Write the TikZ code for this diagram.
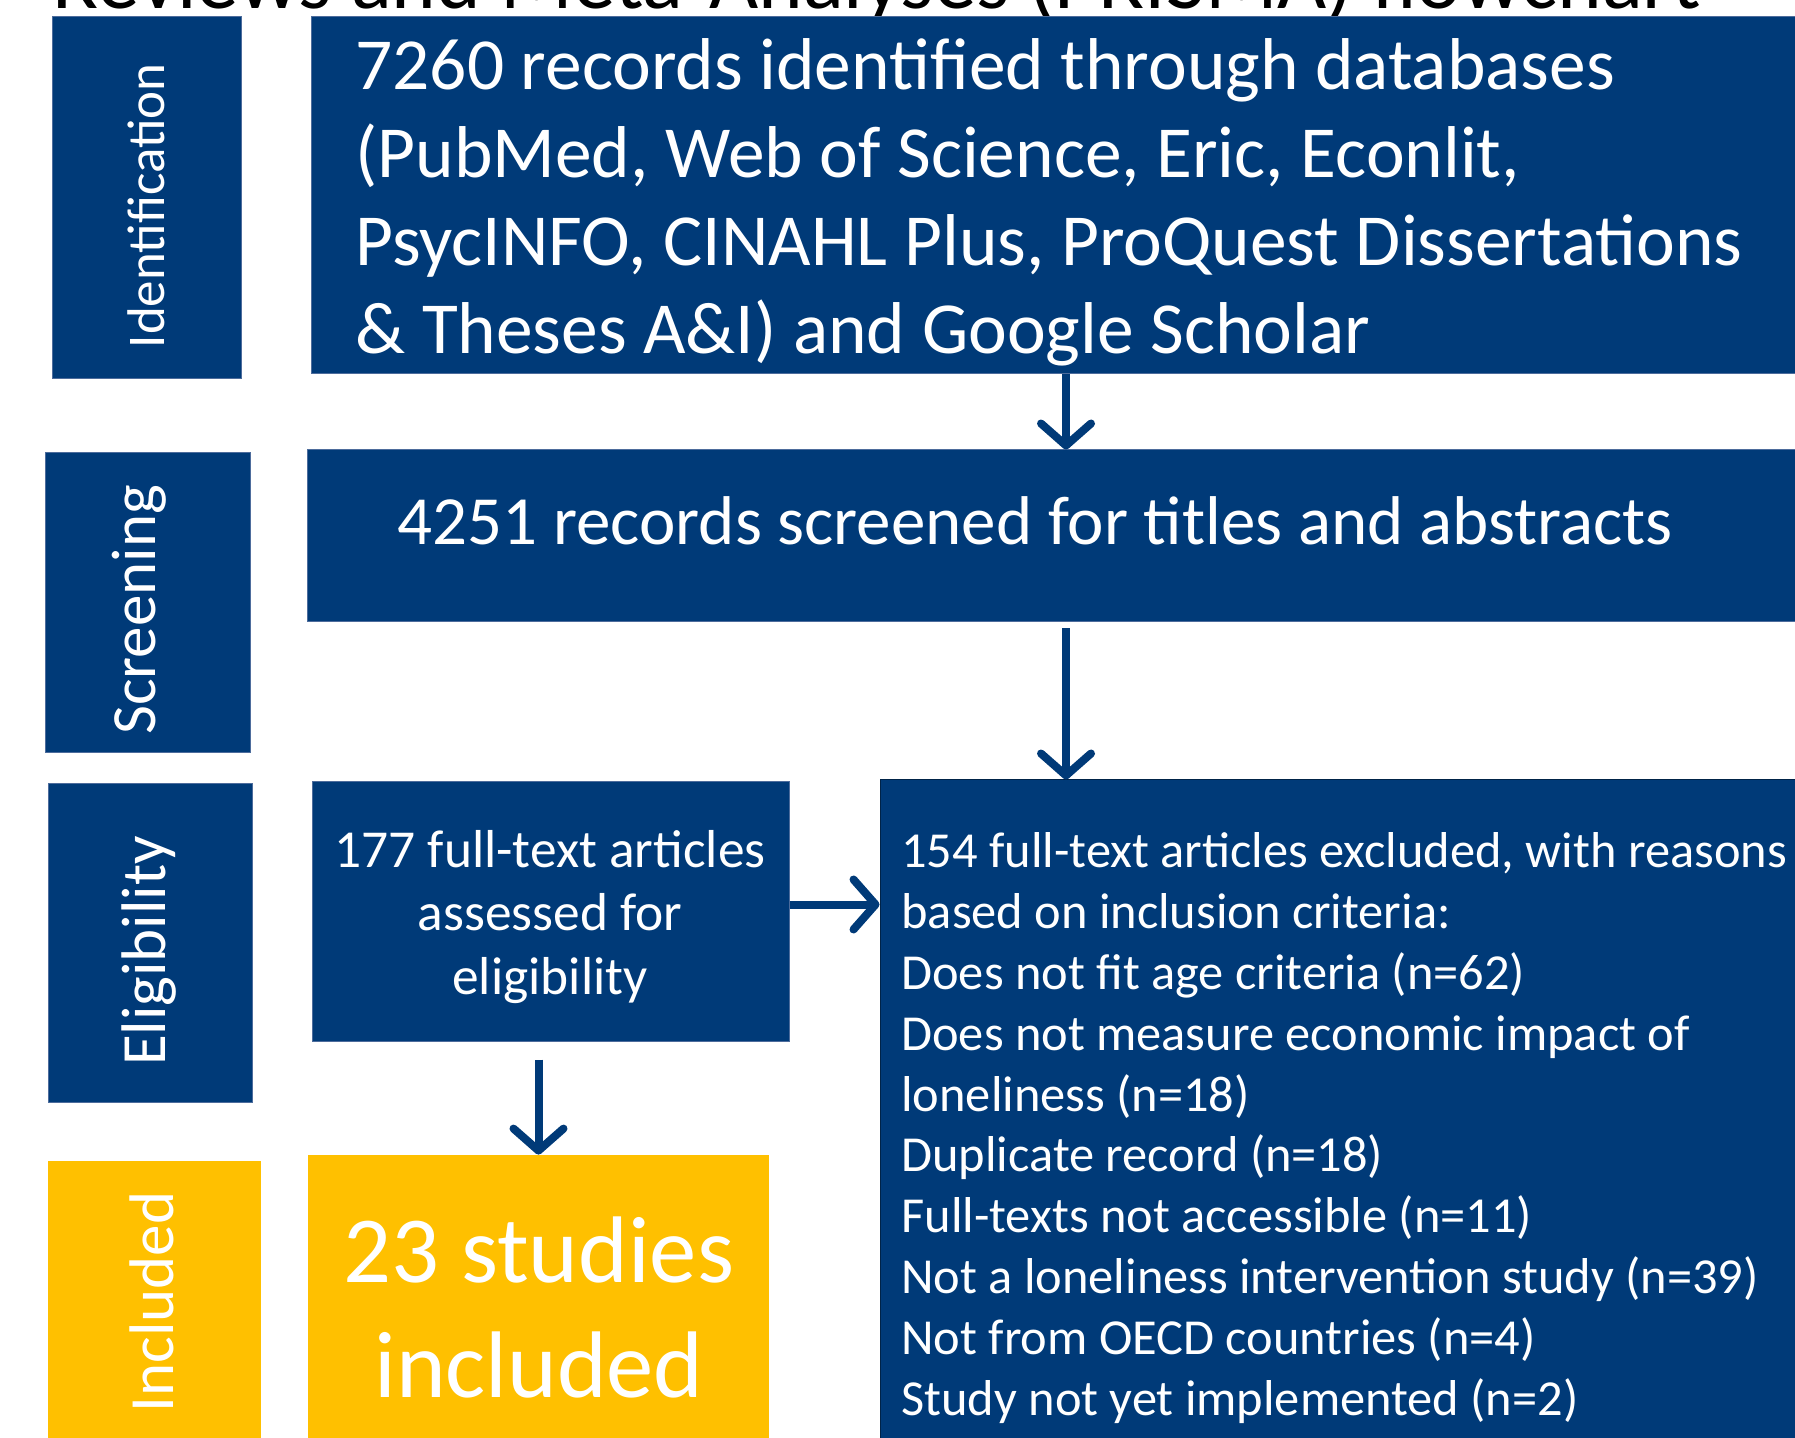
\documentclass[tikz,border=0pt]{standalone}
\usepackage{fontspec}
\setmainfont{Carlito}
\usetikzlibrary{arrows.meta, fit}

\definecolor{prismablue}{HTML}{003A78}
\definecolor{prismaedge}{HTML}{4D6C9C}
\definecolor{prismagold}{HTML}{FFC000}

\tikzset{
  bluebox/.style={fill=prismablue, draw=prismaedge, line width=0.5pt, inner sep=0pt},
  goldbox/.style={fill=prismagold, inner sep=0pt},
  stage/.style={text=white, rotate=90, anchor=base, inner sep=0pt,
    font=\fontsize{31.5}{36}\selectfont},
  boxtext/.style={text=white, inner sep=0pt},
  flow/.style={draw=prismablue, line width=4pt,
    -{Straight Barb[length=11pt, width=25pt, round]}},
}

\begin{document}
\begin{tikzpicture}[x=0.5pt, y=-0.5pt]
\useasboundingbox (0,0) rectangle (1795,1438);
% Title line, cut off by the top edge
\node[anchor=base west, inner sep=0pt, font=\fontsize{42.5}{50}\selectfont] (title) at (52,9)
  {Reviews and Meta-Analyses (PRISMA) flowchart};
% Stage boxes on the left
\node[bluebox, fit={(52,17) (241,379)}] (identbox) {};
\node[bluebox, fit={(45,453) (250,753)}] (screenbox) {};
\node[bluebox, fit={(48,784) (252,1102)}] (eligbox) {};
\node[goldbox, fit={(48,1161) (261,1470)}] (inclbox) {};
\node[stage, font=\fontsize{26.5}{30}\selectfont] (identtxt) at (164,206) {Identification};
\node[stage] (screentxt) at (155,610) {Screening};
\node[stage] (eligtxt) at (165,951) {Eligibility};
\node[stage] (incltxt) at (173,1302) {Included};
% Flow boxes
\node[bluebox, fit={(311,17) (1821,374)}] (records) {};
\node[bluebox, fit={(307,450) (1825,622)}] (screened) {};
\node[bluebox, fit={(312,782) (789,1041)}] (assessed) {};
\node[bluebox, draw=prismablue!60!black, fit={(880,780) (1830,1470)}] (excluded) {};
\node[goldbox, fit={(308,1155) (769,1470)}] (studies) {};
% Texts in the boxes (base = last line)
\node[boxtext, anchor=base west, align=left, font=\fontsize{36.7}{44}\selectfont] (recordstxt) at (355,354)
  {7260 records identified through databases\\
   (PubMed, Web of Science, Eric, Econlit,\\
   PsycINFO, CINAHL Plus, ProQuest Dissertations\\
   \& Theses A\&I) and Google Scholar};
\node[boxtext, anchor=base, font=\fontsize{34.5}{42}\selectfont] (screenedtxt) at (1035,545)
  {4251 records screened for titles and abstracts};
\node[boxtext, anchor=base, align=center, font=\fontsize{26.7}{31.75}\selectfont] (assessedtxt) at (550,994)
  {177 full-text articles\\ assessed for\\ eligibility};
\node[boxtext, anchor=base west, align=left, font=\fontsize{25.2}{30.4}\selectfont] (excludedtxt) at (901,1415)
  {154 full-text articles excluded, with reasons\\
   based on inclusion criteria:\\
   Does not fit age criteria (n=62)\\
   Does not measure economic impact of\\
   loneliness (n=18)\\
   Duplicate record (n=18)\\
   Full-texts not accessible (n=11)\\
   Not a loneliness intervention study (n=39)\\
   Not from OECD countries (n=4)\\
   Study not yet implemented (n=2)};
\node[boxtext, anchor=base, align=center, font=\fontsize{47.3}{57.5}\selectfont] (studiestxt) at (539,1397)
  {23 studies\\ included};
% Arrows
\draw[flow] (records.south) -- (screened.north);
\draw[flow] ([yshift=-3pt]screened.south) -- (screened.south |- excluded.north);
\draw[flow] ([yshift=3.5pt]assessed.east) -- ([yshift=3.5pt]assessed.east -| excluded.west);
\draw[flow] ([yshift=-9pt]studies.north |- assessed.south) -- (studies.north);
\end{tikzpicture}
\end{document}
